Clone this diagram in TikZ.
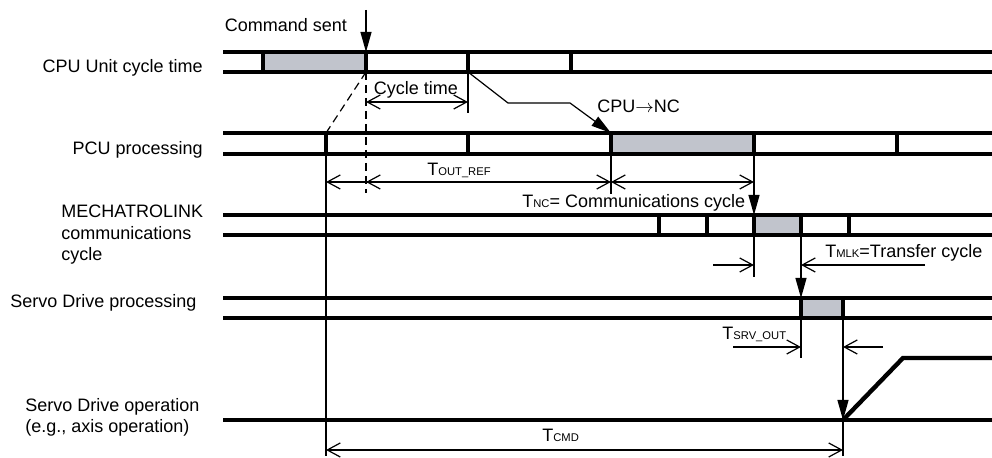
\documentclass[tikz,border=0pt]{standalone}
\usepackage{fontspec}
\setmainfont{Liberation Sans}
\usetikzlibrary{arrows.meta}
\definecolor{boxgray}{RGB}{193,196,204}
\newcommand{\tsub}[1]{{\fontsize{5.6}{6}\selectfont #1}}
\tikzset{
  track/.style={line width=2.2pt},
  tick/.style={line width=1.7pt},
  thinline/.style={line width=0.6pt},
  dim/.style={thinline, >={Straight Barb[length=6.5pt,width=7pt]}},
  trig/.style={thinline, -{Triangle[length=10pt,width=5.5pt]}},
  lbl/.style={font=\fontsize{9}{10.6}\selectfont, inner sep=0pt},
}
\begin{document}
\begin{tikzpicture}[x=0.5pt,y=-0.5pt]
  \useasboundingbox (0,0) rectangle (992,458);
  % grey boxes first, tracks on top: each track is two thick lines (y top, y bottom)
  \fill[boxgray] (263,52) rectangle (366,72);
  \fill[boxgray] (611,133) rectangle (754,154);
  \fill[boxgray] (754,215) rectangle (801,235);
  \fill[boxgray] (801,298) rectangle (843,318);

  \draw[track] (223,52) -- (992,52);  \draw[track] (223,72) -- (992,72);
  \foreach \x in {263,366,468,571} \draw[tick] (\x,52) -- (\x,72);
  \draw[track] (223,133) -- (992,133);  \draw[track] (223,154) -- (992,154);
  \foreach \x in {326,468,611,754,897} \draw[tick] (\x,133) -- (\x,154);
  \draw[track] (223,215) -- (992,215);  \draw[track] (223,235) -- (992,235);
  \foreach \x in {659,707,754,801,849} \draw[tick] (\x,215) -- (\x,235);
  \draw[track] (223,298) -- (992,298);  \draw[track] (223,318) -- (992,318);
  \foreach \x in {801,843} \draw[tick] (\x,298) -- (\x,318);
  \draw[track] (223,420) -- (992,420);
  \draw[track] (843,420) -- (903,358) -- (992,358);

  % row labels
  \node[lbl, anchor=base east] (cpulbl) at (203,73) {CPU Unit cycle time};
  \node[lbl, anchor=base east] (pculbl) at (203,155) {PCU processing};
  \node[lbl, anchor=north west, align=left] (mlklbl) at (61,205)
    {MECHATROLINK\\communications\\cycle};
  \node[lbl, anchor=base west] (srvlbl) at (10,308) {Servo Drive processing};
  \node[lbl, anchor=north west, align=left] (oplbl) at (25,398)
    {Servo Drive operation\\(e.g., axis operation)};

  % extension lines
  \draw[thinline, dashed, dash pattern=on 4pt off 2.5pt] (366,72) -- (366,193);
  \draw[thinline, dashed, dash pattern=on 4pt off 2.5pt] (366,72) -- (326,133);
  \draw[thinline] (468,72) -- (468,113);
  \draw[thinline] (326,154) -- (326,456);
  \draw[thinline] (611,154) -- (611,194);
  \draw[thinline] (754,235) -- (754,277);
  \draw[thinline] (801,318) -- (801,358);
  \draw[thinline] (843,420) -- (843,456);

  % trigger arrows
  \coordinate (sent) at (366,10);   \coordinate (cpuin) at (366,52);
  \coordinate (cpuout) at (468,72); \coordinate (ncin) at (611,133);
  \coordinate (ncout) at (754,154); \coordinate (mlkin) at (754,215);
  \coordinate (mlkout) at (801,235); \coordinate (srvin) at (801,298);
  \coordinate (srvout) at (843,318); \coordinate (opin) at (843,420);
  \draw[trig] (sent) -- (cpuin);
  \draw[trig] (cpuout) -- (508,103) -- (570,103) -- (ncin);
  \draw[trig] (ncout) -- (mlkin);
  \draw[trig] (mlkout) -- (srvin);
  \draw[trig] (srvout) -- (opin);

  % dimension lines
  \draw[dim, <->] (366,102) -- (468,102);
  \draw[dim, <->] (326,182) -- (611,182);
  \draw[dim, <-] (366,182) -- (390,182);
  \draw[dim, <->] (611,182) -- (754,182);
  \draw[dim, ->] (713,265) -- (754,265);
  \draw[dim, ->] (925,265) -- (801,265);
  \draw[dim, ->] (733,347) -- (801,347);
  \draw[dim, ->] (883,347) -- (843,347);
  \draw[dim, <->] (326,450) -- (843,450);

  % texts
  \node[lbl, anchor=base] (sentlbl) at (286,32) {Command sent};
  \node[lbl, anchor=base] (cyclbl) at (416,95) {Cycle time};
  \node[lbl, anchor=base west] (cpunc) at (597,113) {CPU$\rightarrow$NC};
  \node[lbl, anchor=base] (toutref) at (459,176) {T\tsub{OUT\_REF}};
  \node[lbl, anchor=base west] (tnc) at (522,208) {T\tsub{NC}= Communications cycle};
  \node[lbl, anchor=base west] (tmlk) at (825,258) {T\tsub{MLK}=Transfer cycle};
  \node[lbl, anchor=base west] (tsrv) at (722,340) {T\tsub{SRV\_OUT}};
  \node[lbl, anchor=base west] (tcmd) at (542,442) {T\tsub{CMD}};
\end{tikzpicture}
\end{document}
